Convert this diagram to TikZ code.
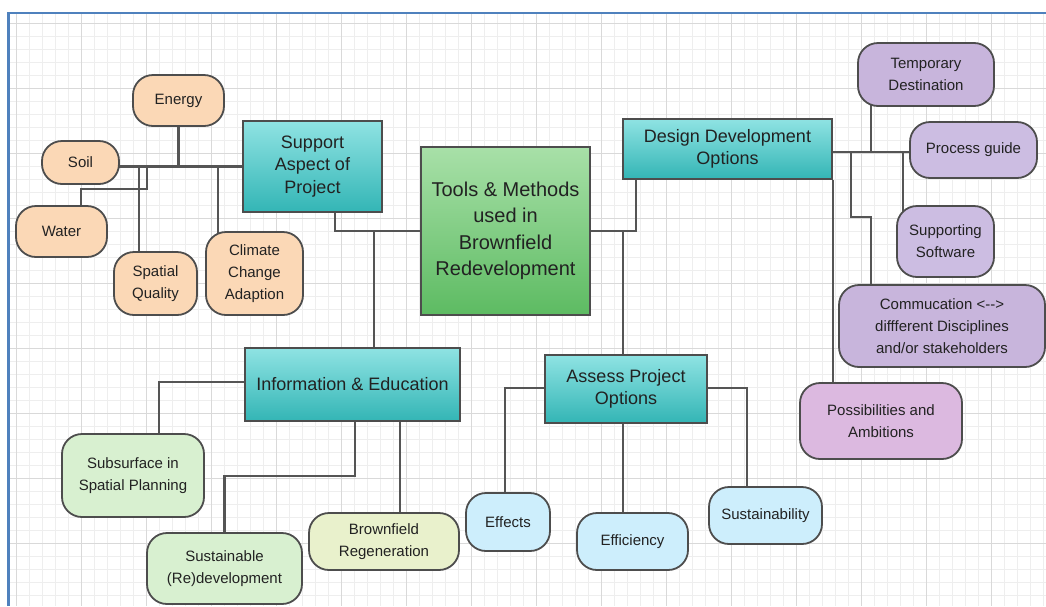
\documentclass[tikz,border=0pt]{standalone}
\usepackage{fontspec}
\setmainfont{Liberation Sans}
\pgfdeclarelayer{grid}
\pgfdeclarelayer{links}
\pgfsetlayers{grid,links,main}

\definecolor{edge}{HTML}{4D4D4D}
\definecolor{linkc}{HTML}{555555}
\definecolor{ink}{HTML}{222222}
\definecolor{framec}{HTML}{4F81BD}
\definecolor{gridminor}{HTML}{EEEEEE}
\definecolor{gridmajor}{HTML}{D9D9D9}
\definecolor{peach}{HTML}{FBD8B6}
\definecolor{tealtop}{HTML}{8FE3E3}
\definecolor{tealbot}{HTML}{33B5B5}
\definecolor{greentop}{HTML}{A8E0A8}
\definecolor{greenbot}{HTML}{5DBB62}
\definecolor{lilac}{HTML}{C8B5DC}
\definecolor{lilaclight}{HTML}{CCBDE2}
\definecolor{pinklilac}{HTML}{DCB9E0}
\definecolor{mint}{HTML}{D8F0D0}
\definecolor{lime}{HTML}{E9F1CC}
\definecolor{sky}{HTML}{CDEEFC}

\begin{document}
\begin{tikzpicture}[x=1pt,y=-1pt,
  box/.style={draw=edge, line width=1.8pt, align=center, inner sep=0pt, text=ink},
  pill/.style={box, rounded corners=20pt, font=\fontsize{15}{22}\selectfont},
  tealbox/.style={box, top color=tealtop, bottom color=tealbot, font=\fontsize{18}{22.5}\selectfont},
  hubbox/.style={box, top color=greentop, bottom color=greenbot, font=\fontsize{20}{26.5}\selectfont},
  link/.style={draw=linkc, line width=2.2pt},
  sz/.style 2 args={minimum width=#1, minimum height=#2}]

\useasboundingbox (0,0) rectangle (1046,606);

% page, drawing-area grid and frame
\begin{pgfonlayer}{grid}
  \fill[white] (0,0) rectangle (1046,606);
  \begin{scope}
    \clip (9,14) rectangle (1046,606);
    \foreach \k in {1,...,80} \draw[gridminor, line width=1pt] ({3+13*\k},14) -- ({3+13*\k},606);
    \foreach \k in {1,...,46} \draw[gridminor, line width=1pt] (9,{10+13*\k}) -- (1046,{10+13*\k});
    \foreach \k in {0,...,15} \draw[gridmajor, line width=1pt] ({16+65*\k},14) -- ({16+65*\k},606);
    \foreach \k in {0,...,8} \draw[gridmajor, line width=1pt] (9,{23+65*\k}) -- (1046,{23+65*\k});
  \end{scope}
  \draw[framec, line width=2.5pt] (8.5,606) -- (8.5,13) -- (1046,13);
\end{pgfonlayer}

% central topic
\node[hubbox, sz={169}{168}] (tools) at (505.5,231) {Tools \& Methods\\used in\\Brownfield\\Redevelopment};

% main branches
\node[tealbox, sz={139}{91}] (support) at (312.5,166.5) {Support\\Aspect of\\Project};
\node[tealbox, sz={209}{60}] (design) at (727.5,149) {Design Development\\Options};
\node[tealbox, sz={215}{73}] (info) at (352.5,384.5) {Information \& Education};
\node[tealbox, sz={162}{68}] (assess) at (626,389) {Assess Project\\Options};

% support aspects
\node[pill, fill=peach, sz={91}{51}] (energy) at (178.5,100.5) {Energy};
\node[pill, fill=peach, sz={77}{43}] (soil) at (80.5,162.5) {Soil};
\node[pill, fill=peach, sz={91}{51}] (water) at (61.5,231.5) {Water};
\node[pill, fill=peach, sz={83}{63}] (spatial) at (155.5,283.5) {Spatial\\Quality};
\node[pill, fill=peach, sz={97}{83}] (climate) at (254.5,273.5) {Climate\\Change\\Adaption};

% design development options
\node[pill, fill=lilac, sz={136}{63}] (temp) at (926,74.5) {Temporary\\Destination};
\node[pill, fill=lilaclight, sz={127}{56}] (process) at (973.5,150) {Process guide};
\node[pill, fill=lilaclight, sz={97}{71}] (supporting) at (945.5,241.5) {Supporting\\Software};
\node[pill, fill=lilac, sz={206}{82}] (comm) at (942,326) {Commucation <{-}{-}>\\diffferent Disciplines\\and/or stakeholders};
\node[pill, fill=pinklilac, sz={162}{76}] (poss) at (881,421) {Possibilities and\\Ambitions};

% information and education
\node[pill, fill=mint, sz={142}{83}] (subsurface) at (133,475.5) {Subsurface in\\Spatial Planning};
\node[pill, fill=mint, sz={155}{71}] (sustainable) at (224.5,568.5) {Sustainable\\(Re)development};
\node[pill, fill=lime, sz={150}{57}] (brownfield) at (384,541.5) {Brownfield\\Regeneration};

% assessment
\node[pill, fill=sky, sz={84}{58}] (effects) at (508,522) {Effects};
\node[pill, fill=sky, sz={111}{57}] (efficiency) at (632.5,541.5) {Efficiency};
\node[pill, fill=sky, sz={113}{57}] (sust) at (765.5,515.5) {Sustainability};

% bend points
\coordinate (wbend) at (147,189);
\coordinate (bus) at ([yshift=-3]design.center);
\coordinate (cbend) at (851,217);
\coordinate (ibend) at (355,476);

% connectors, kept behind the boxes
\begin{pgfonlayer}{links}
  \draw[link] (soil.center) -- (soil.center |- support.center) -- (support.center);
  \draw[link] (energy.center) -- (energy.center |- support.center);
  \draw[link] ([xshift=-16.5]spatial.center) -- ([xshift=-16.5]spatial.center |- support.center);
  \draw[link] ([xshift=-36.5]climate.center) -- ([xshift=-36.5]climate.center |- support.center);
  \draw[link] (wbend |- support.center) -- (wbend) -| ([xshift=19.5]water.center);

  \draw[link] ([xshift=22.5]support.center) |- (tools.center);
  \draw[link] ([xshift=21.5]info.center) -- ([xshift=21.5]info.center |- tools.center);
  \draw[link] (tools.center) -| ([xshift=-91.5]design.center);
  \draw[link] ([xshift=-3]assess.center) -- ([xshift=-3]assess.center |- tools.center);

  \draw[link] (bus) -- (bus -| process.center);
  \draw[link] ([xshift=-55]temp.center) -- ([xshift=-55]temp.center |- bus);
  \draw[link] ([xshift=-42.5]supporting.center) -- ([xshift=-42.5]supporting.center |- bus);
  \draw[link] (cbend |- bus) -- (cbend) -| ([xshift=-71]comm.center);
  \draw[link] (design.south east) -- (design.south east |- poss.center);

  \draw[link] ([yshift=2.5]info.center) -| ([xshift=26]subsurface.center);
  \draw[link] (ibend |- info.center) -- (ibend) -| (sustainable.center);
  \draw[link] ([xshift=16]brownfield.center) -- ([xshift=16]brownfield.center |- info.center);

  \draw[link] ([yshift=1]assess.center) -| ([xshift=-3]effects.center);
  \draw[link] ([yshift=1]assess.center) -| ([xshift=-18.5]sust.center);
  \draw[link] ([xshift=-3]assess.center) -- ([xshift=-3]assess.center |- efficiency.center);
\end{pgfonlayer}
\end{tikzpicture}
\end{document}
